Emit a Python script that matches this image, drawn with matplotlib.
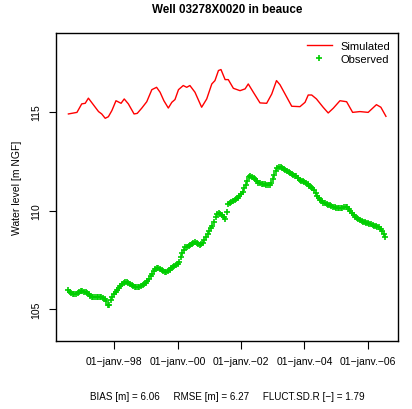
import numpy as np
import matplotlib
matplotlib.use("Agg")
import matplotlib.pyplot as plt

plt.rcParams['font.family'] = ['Liberation Sans', 'DejaVu Sans']

# simulated head (decimal year, m NGF)
sim_t = [1996.56, 1996.83, 1996.98, 1997.09, 1997.19, 1997.35, 1997.51, 1997.61, 1997.72,
         1997.82, 1997.93, 1998.06, 1998.22, 1998.32, 1998.45, 1998.63, 1998.73, 1998.87,
         1999.03, 1999.19, 1999.34, 1999.45, 1999.57, 1999.71, 1999.82, 1999.92, 2000.03,
         2000.18, 2000.29, 2000.39, 2000.55, 2000.76, 2000.92, 2001.08, 2001.18, 2001.29,
         2001.37, 2001.50, 2001.60, 2001.76, 2001.97, 2002.13, 2002.23, 2002.39, 2002.60,
         2002.81, 2002.97, 2003.12, 2003.23, 2003.39, 2003.60, 2003.86, 2004.02, 2004.12,
         2004.23, 2004.38, 2004.59, 2004.75, 2004.91, 2005.12, 2005.33, 2005.52, 2005.75,
         2006.01, 2006.15, 2006.27, 2006.41, 2006.57]
sim_h = [114.90, 114.98, 115.41, 115.44, 115.70, 115.36, 115.02, 114.90, 114.68,
         114.76, 115.07, 115.57, 115.44, 115.66, 115.41, 114.90, 114.93, 115.19,
         115.52, 116.13, 116.25, 116.00, 115.57, 115.20, 115.49, 115.63, 116.13,
         116.34, 116.25, 116.34, 116.00, 115.24, 115.66, 116.42, 116.59, 117.10,
         117.15, 116.64, 116.64, 116.20, 116.08, 116.17, 116.42, 116.00, 115.46,
         115.44, 115.91, 116.59, 116.38, 115.91, 115.29, 115.27, 115.49, 115.86,
         115.86, 115.66, 115.24, 114.95, 115.19, 115.57, 115.52, 114.98, 115.02,
         114.98, 115.19, 115.37, 115.24, 114.78]

# observed head, one reading every 0.05 year from 1996.55
obs_start = 1996.55
obs_step = 0.05
obs_h = [105.99, 105.90, 105.82, 105.79, 105.80, 105.80, 105.82, 105.87, 105.91, 105.93,
         105.90, 105.87, 105.84, 105.77, 105.70, 105.65, 105.63, 105.64, 105.65, 105.64,
         105.64, 105.63, 105.58, 105.50, 105.40, 105.24, 105.22, 105.45, 105.65, 105.80,
         105.88, 105.97, 106.06, 106.17, 106.28, 106.36, 106.39, 106.38, 106.33, 106.28,
         106.23, 106.18, 106.14, 106.11, 106.12, 106.14, 106.17, 106.21, 106.27, 106.34,
         106.43, 106.55, 106.68, 106.80, 106.92, 107.04, 107.12, 107.08, 107.03, 106.97,
         106.92, 106.88, 106.87, 106.93, 107.01, 107.09, 107.15, 107.21, 107.27, 107.32,
         107.42, 107.65, 107.86, 108.03, 108.14, 108.18, 108.22, 108.26, 108.30, 108.35,
         108.39, 108.34, 108.29, 108.25, 108.31, 108.38, 108.52, 108.68, 108.84, 108.97,
         109.10, 109.23, 109.42, 109.68, 109.85, 109.86, 109.85, 109.77, 109.67, 109.58,
         109.95, 110.32, 110.38, 110.44, 110.49, 110.54, 110.60, 110.65, 110.73, 110.85,
         110.97, 111.13, 111.32, 111.52, 111.70, 111.76, 111.72, 111.67, 111.58, 111.49,
         111.42, 111.39, 111.37, 111.35, 111.34, 111.32, 111.30, 111.29, 111.42, 111.60,
         111.82, 112.03, 112.16, 112.21, 112.20, 112.15, 112.10, 112.06, 112.01, 111.97,
         111.92, 111.88, 111.83, 111.78, 111.74, 111.66, 111.57, 111.52, 111.48, 111.44,
         111.39, 111.33, 111.27, 111.20, 111.13, 111.04, 110.91, 110.76, 110.63, 110.55,
         110.47, 110.41, 110.37, 110.33, 110.30, 110.27, 110.24, 110.21, 110.18, 110.15,
         110.12, 110.11, 110.12, 110.15, 110.18, 110.21, 110.17, 110.08, 109.98, 109.89,
         109.79, 109.70, 109.62, 109.56, 109.52, 109.48, 109.45, 109.42, 109.40, 109.37,
         109.33, 109.30, 109.27, 109.24, 109.21, 109.18, 109.15, 109.07, 108.95, 108.80,
         108.65]
obs_t = obs_start + obs_step * np.arange(len(obs_h))

year_ticks = [1998, 2000, 2002, 2004, 2006]
tick_labels = ['01\u2212janv.\u221298', '01\u2212janv.\u221200', '01\u2212janv.\u221202',
               '01\u2212janv.\u221204', '01\u2212janv.\u221206']
y_ticks = [105, 110, 115]

fig = plt.figure(figsize=(4.12, 4.10), dpi=100)
ax = fig.add_axes([0.136, 0.166, 0.830, 0.751])

ax.plot(sim_t, sim_h, color='red', lw=1, label='Simulated')
ax.plot(obs_t, obs_h, ls='none', marker='+', color='#00CD00', ms=4, mew=1.2, label='Observed')

ax.set_xlim(1996.17, 2006.95)
ax.set_ylim(103.4, 119.0)
ax.set_xticks(year_ticks)
ax.set_xticklabels(tick_labels, fontsize=7.5)
ax.set_yticks(y_ticks)
ax.set_yticklabels([str(v) for v in y_ticks], fontsize=7.5, rotation=90, va='center')
ax.tick_params(axis='x', length=6, pad=5)
ax.tick_params(axis='y', length=5, pad=6)
for s in ax.spines.values():
    s.set_linewidth(1)

ax.set_ylabel('Water level [m NGF]', fontsize=7.5, labelpad=6)
ax.set_title('Well 03278X0020 in beauce', fontsize=8.4, fontweight='bold', pad=15)

ax.legend(loc='upper right', frameon=False, fontsize=8, handlelength=2.2,
          borderaxespad=0.3, labelspacing=0.3)

fig.text(0.551, 0.032, 'BIAS [m] = 6.06     RMSE [m] = 6.27     FLUCT.SD.R [\u2212] = 1.79',
         ha='center', va='center', fontsize=7.1)

fig.savefig('out.png', dpi=100)
